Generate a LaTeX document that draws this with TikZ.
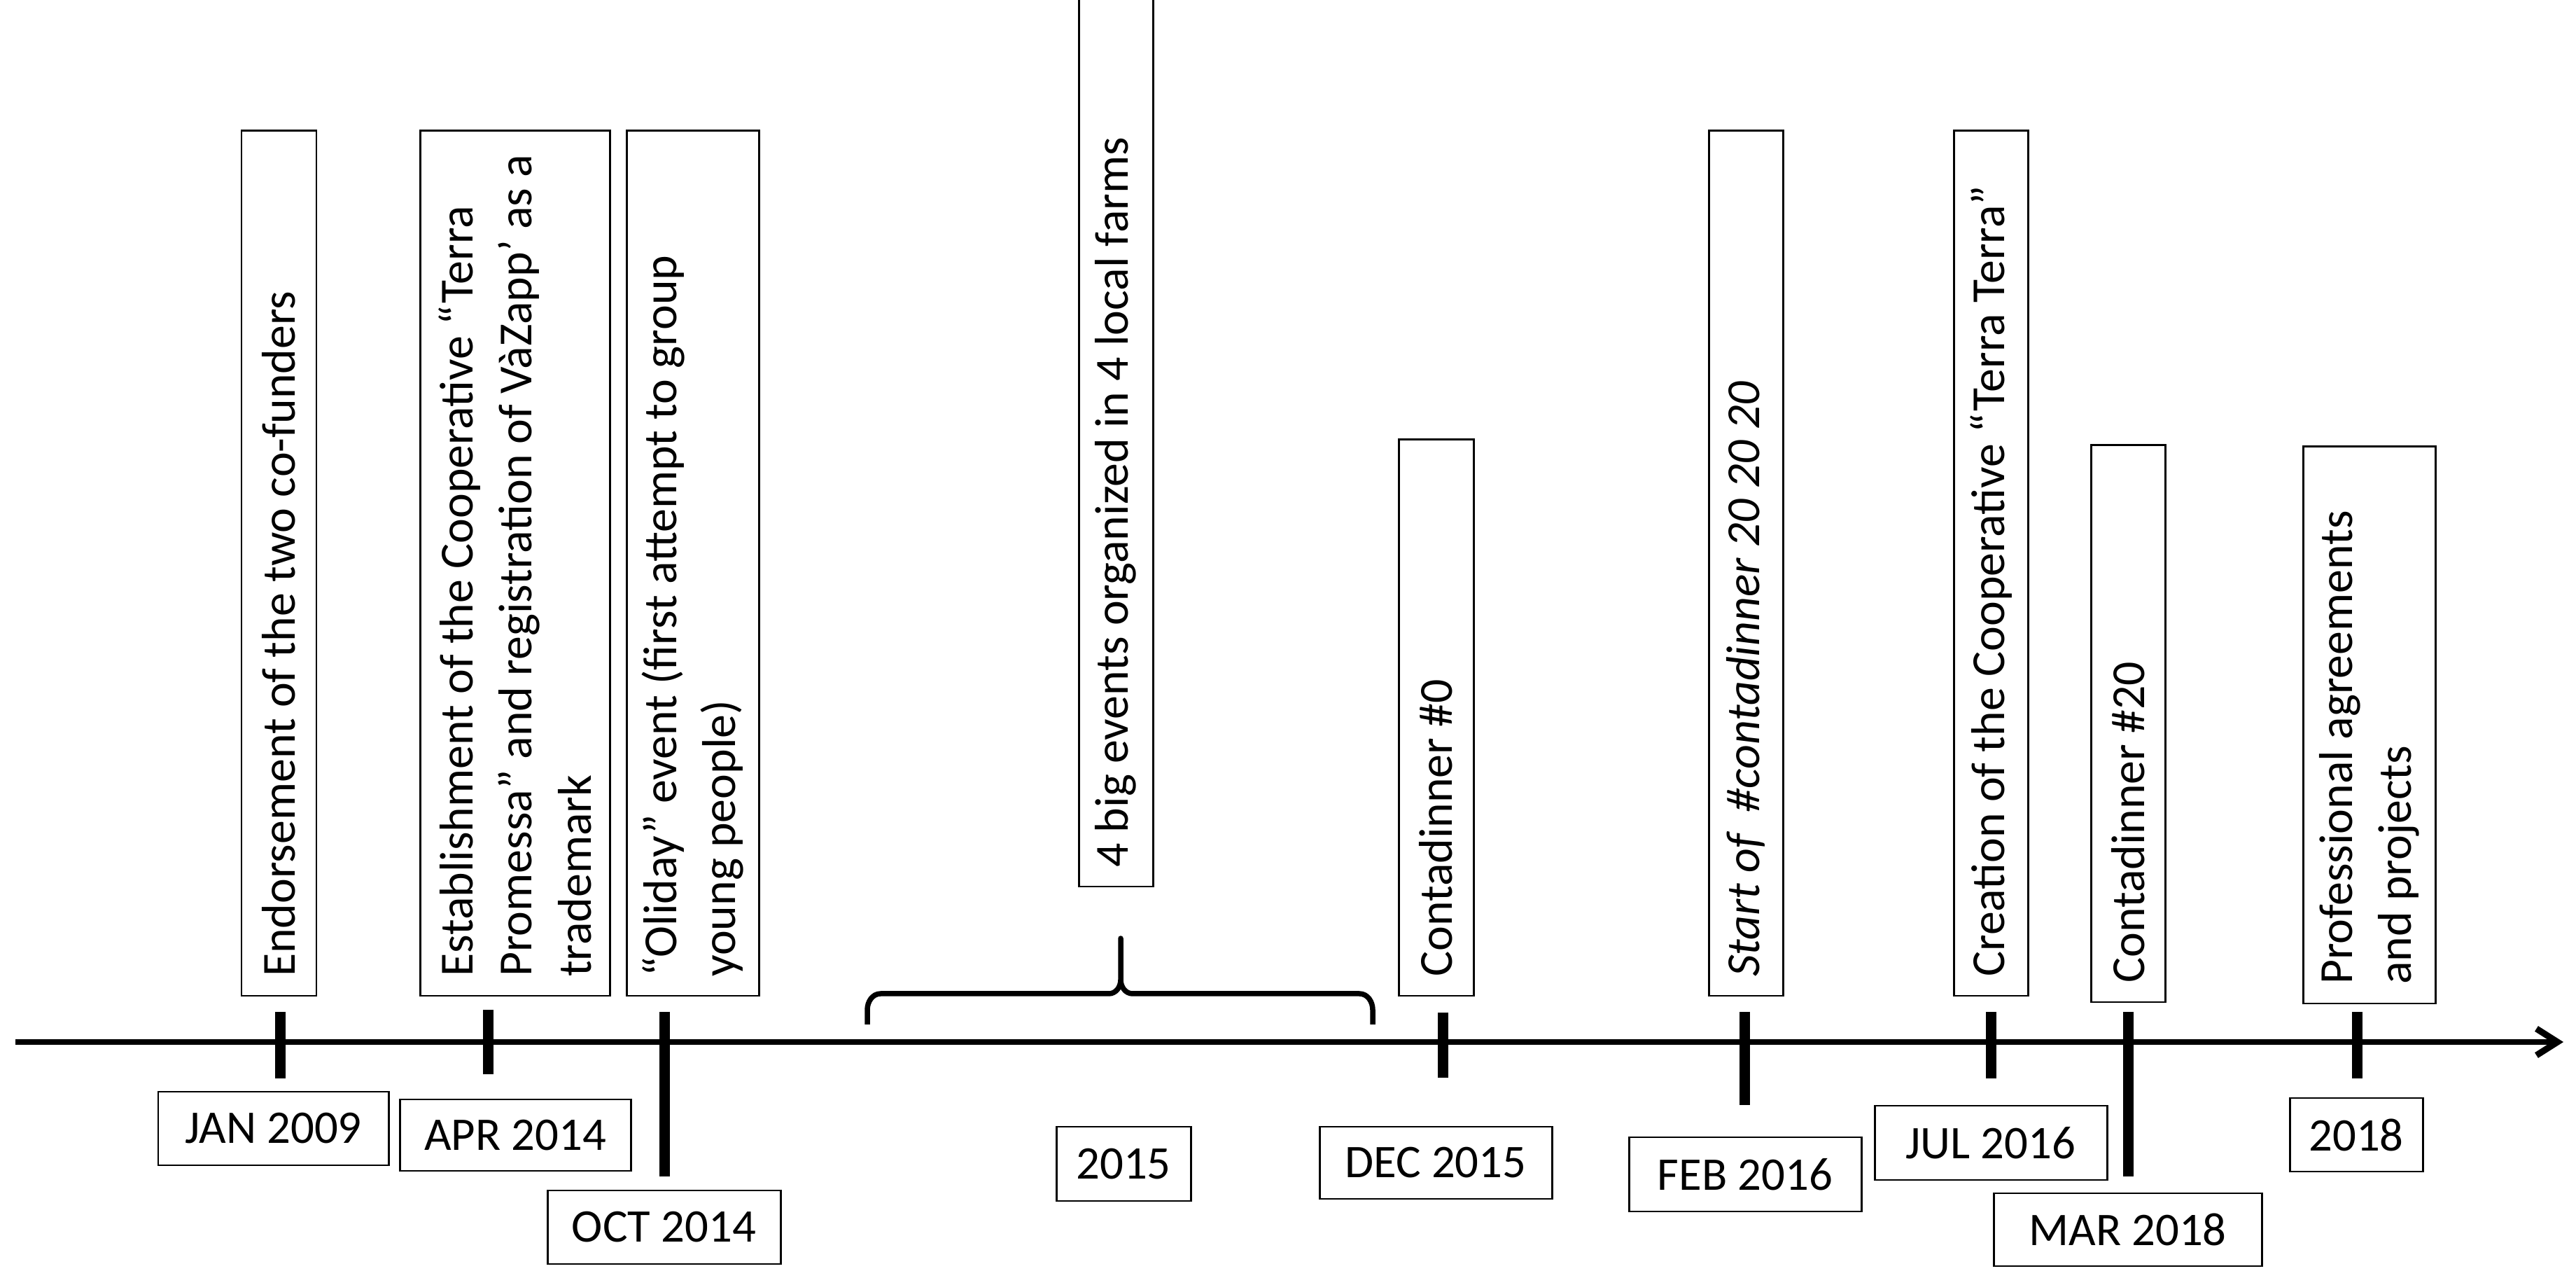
\documentclass[tikz,border=0pt]{standalone}
\usepackage{fontspec}
\setmainfont{Carlito}
\usetikzlibrary{arrows.meta}
\tikzset{
  evbox/.style={draw, line width=0.85pt, rotate=90, inner sep=0pt},
  evtext/.style={rotate=90, anchor=west, inner sep=0pt, align=left,
    font=\fontsize{19.3}{24}\selectfont},
  datebox/.style={draw, line width=0.85pt, inner sep=0pt, font=\fontsize{19}{23}\selectfont},
  tickmark/.style={line width=0.15cm},
  axisline/.style={line width=2pt, -{Straight Barb[length=0.3cm,width=0.38cm,line width=2.6pt]}},
  bracepath/.style={line width=0.075cm, line join=round}
}
\begin{document}
\begin{tikzpicture}
\useasboundingbox (0,0) rectangle (36.8,18.24);
\clip (0,0) rectangle (36.8,18.24);

% axis
\coordinate (axL) at (0.22,3.36);
\coordinate (axR) at (36.62,3.36);
\draw[axisline] (axL) -- (axR);

% event boxes
\node[evbox, minimum width=12.35cm, minimum height=1.07cm] (e1) at (3.985,10.195) {};
\node[evtext] (e1t) at ([yshift=0.28cm]e1.west) {Endorsement of the two co-funders};
\node[evbox, minimum width=12.35cm, minimum height=2.71cm] (e2) at (7.355,10.195) {};
\node[evtext] (e2t) at ([yshift=0.28cm]e2.west)
  {Establishment of the Cooperative “Terra\\ Promessa” and registration of VàZapp’ as a\\ trademark};
\node[evbox, minimum width=12.35cm, minimum height=1.89cm] (e3) at (9.895,10.195) {};
\node[evtext] (e3t) at ([yshift=0.28cm]e3.west) {“Oliday” event (first attempt to group\\ young people)};
\node[evbox, minimum width=13.12cm, minimum height=1.06cm] (e4) at (15.94,12.14) {};
\node[evtext] (e4t) at ([yshift=0.28cm]e4.west) {4 big events organized in 4 local farms};
\node[evbox, minimum width=7.94cm, minimum height=1.07cm] (e5) at (20.515,7.99) {};
\node[evtext] (e5t) at ([yshift=0.28cm]e5.west) {Contadinner \#0};
\node[evbox, minimum width=12.35cm, minimum height=1.06cm] (e6) at (24.94,10.195) {};
\node[evtext] (e6t) at ([yshift=0.28cm]e6.west) {\textit{Start of\ \ \#contadinner 20 20 20}};
\node[evbox, minimum width=12.35cm, minimum height=1.06cm] (e7) at (28.44,10.195) {};
\node[evtext] (e7t) at ([yshift=0.28cm]e7.west) {Creation of the Cooperative “Terra Terra”};
\node[evbox, minimum width=7.95cm, minimum height=1.06cm] (e8) at (30.40,7.905) {};
\node[evtext] (e8t) at ([yshift=0.28cm]e8.west) {Contadinner \#20};
\node[evbox, minimum width=7.95cm, minimum height=1.89cm] (e9) at (33.845,7.885) {};
\node[evtext] (e9t) at ([yshift=0.28cm]e9.west) {Professional agreements\\ and projects};

% brace
\coordinate (brL) at (12.39,3.61);
\coordinate (brT) at (16.01,4.84);
\coordinate (brR) at (19.61,3.61);
\draw[bracepath] (brL) -- (12.39,3.82) to[out=90,in=180] (12.58,4.05) -- (15.84,4.05)
  to[out=0,in=-90] (16.01,4.25) -- (brT) -- (16.01,4.25) to[out=-90,in=180] (16.18,4.05)
  -- (19.42,4.05) to[out=0,in=90] (19.61,3.82) -- (brR);

% ticks
\coordinate (t1a) at (4.00,3.79); \coordinate (t1b) at (4.00,2.84);
\coordinate (t2a) at (6.97,3.82); \coordinate (t2b) at (6.97,2.90);
\coordinate (t3a) at (9.49,3.79); \coordinate (t3b) at (9.49,1.44);
\coordinate (t4a) at (20.61,3.78); \coordinate (t4b) at (20.61,2.85);
\coordinate (t5a) at (24.92,3.79); \coordinate (t5b) at (24.92,2.46);
\coordinate (t6a) at (28.44,3.79); \coordinate (t6b) at (28.44,2.84);
\coordinate (t7a) at (30.40,3.79); \coordinate (t7b) at (30.40,1.44);
\coordinate (t8a) at (33.67,3.79); \coordinate (t8b) at (33.67,2.84);
\foreach \i in {1,...,8} { \draw[tickmark] (t\i a) -- (t\i b); }

% date labels
\node[datebox, minimum width=3.29cm, minimum height=1.05cm] (d1) at (3.905,2.125) {JAN 2009};
\node[datebox, minimum width=3.30cm, minimum height=1.02cm] (d2) at (7.36,2.03) {APR 2014};
\node[datebox, minimum width=3.33cm, minimum height=1.05cm] (d3) at (9.485,0.715) {OCT 2014};
\node[datebox, minimum width=1.92cm, minimum height=1.06cm] (d4) at (16.05,1.62) {2015};
\node[datebox, minimum width=3.32cm, minimum height=1.03cm] (d5) at (20.51,1.635) {DEC 2015};
\node[datebox, minimum width=3.32cm, minimum height=1.06cm] (d6) at (24.93,1.47) {FEB 2016};
\node[datebox, minimum width=3.32cm, minimum height=1.06cm] (d7) at (28.44,1.92) {JUL 2016};
\node[datebox, minimum width=3.83cm, minimum height=1.04cm] (d8) at (30.395,0.68) {MAR 2018};
\node[datebox, minimum width=1.90cm, minimum height=1.05cm] (d9) at (33.66,2.035) {2018};
\end{tikzpicture}
\end{document}
